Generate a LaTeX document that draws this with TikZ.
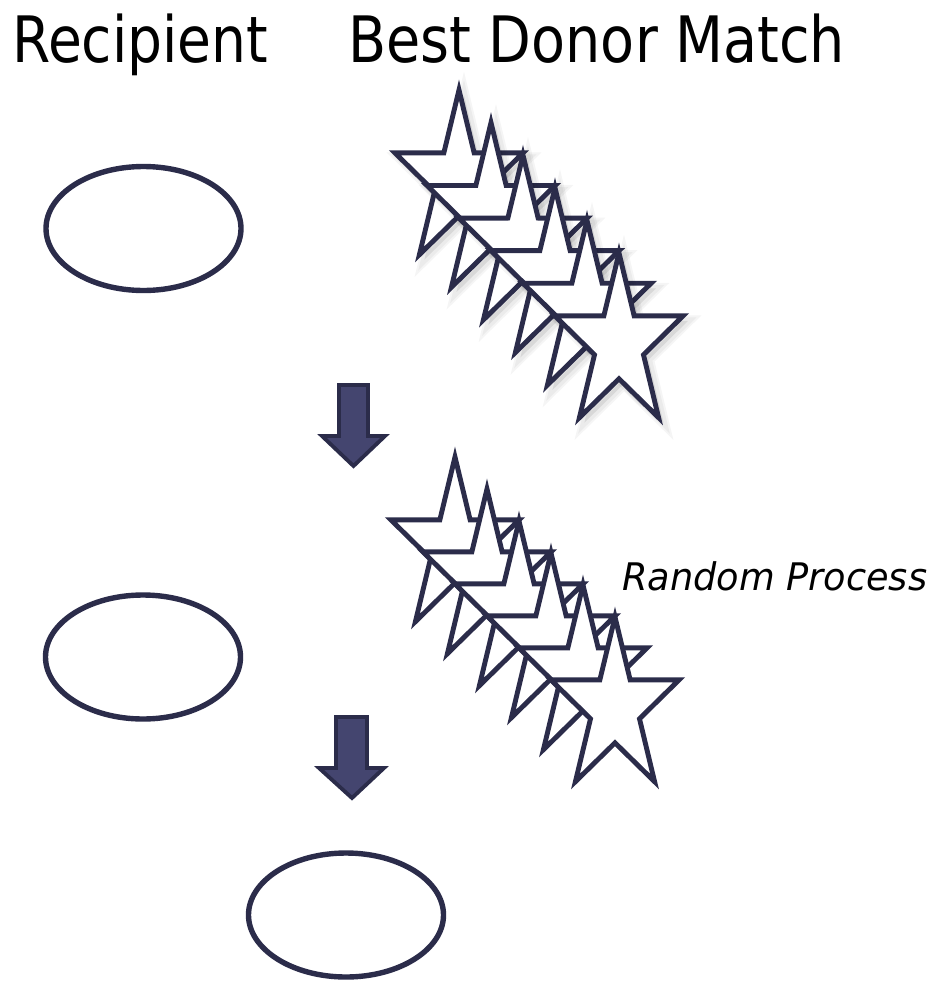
\documentclass[tikz,border=0pt]{standalone}
\usepackage{fontspec}
\setmainfont{DejaVu Sans}
\usetikzlibrary{shapes.geometric}
\definecolor{navy}{RGB}{43,44,74}
\definecolor{arrowfill}{RGB}{68,69,111}
\tikzset{
  oval/.style={ellipse, draw=navy, line width=5.4pt, minimum width=195pt, minimum height=124pt, inner sep=0pt},
  starline/.style={draw=navy, fill=white, line width=4.9pt, miter limit=10},
  starshadow/.style={draw=black, fill=black, draw opacity=0.04, fill opacity=0.04},
  blockarrow/.style={draw=navy, fill=arrowfill, line width=3.8pt, line join=miter},
  title/.style={anchor=base west, inner sep=0pt, font=\fontsize{64}{72}\selectfont},
  mystar/.pic={\path[pic actions] (-90:91) -- (-54:34.8) -- (-18:91) -- (18:34.8) -- (54:91) -- (90:34.8) -- (126:91) -- (162:34.8) -- (198:91) -- (234:34.8) -- cycle;}
}
\begin{document}
\begin{tikzpicture}[x=1pt,y=-1pt]
\useasboundingbox (0,0) rectangle (938,983);
\fill[white] (0,0) rectangle (938,983);

% titles
\node[title] (rtitle) at (12,62) {\resizebox{256pt}{\height}{Recipient}};
\node[title] (dtitle) at (348,62) {\resizebox{497pt}{\height}{Best Donor Match}};
\node[anchor=base west, inner sep=0pt, font=\fontsize{38}{44}\selectfont\itshape] (rp) at (622,590) {\resizebox{305pt}{\height}{Random Process}};

% recipients
\node[oval] (rec1) at (143.5,228.5) {};
\node[oval] (rec2) at (143,657) {};
\node[oval] (rec3) at (346,915) {};

% first set of stars (with soft shadow)
\foreach \k in {0,...,5}{
  \pic[starshadow, line width=11pt, xscale=0.74] at ({464+32*\k},{186+32.6*\k}) {mystar};
  \pic[starshadow, line width=7pt, xscale=0.74] at ({464+32*\k},{186+32.6*\k}) {mystar};
  \pic[starline, xscale=0.74] at ({459+32*\k},{181+32.6*\k}) {mystar};
}

% second set of stars
\foreach \k in {0,...,5}{
  \pic[starline, xscale=0.74] at ({455+32*\k},{548+32*\k}) {mystar};
}

% block arrows
\draw[blockarrow] (339,385) -- (368,385) -- (368,436) -- (385,436) -- (353.5,466) -- (322,436) -- (339,436) -- cycle;
\draw[blockarrow] (336,717) -- (367,717) -- (367,768) -- (384,768) -- (352,798) -- (319,768) -- (336,768) -- cycle;
\end{tikzpicture}
\end{document}
